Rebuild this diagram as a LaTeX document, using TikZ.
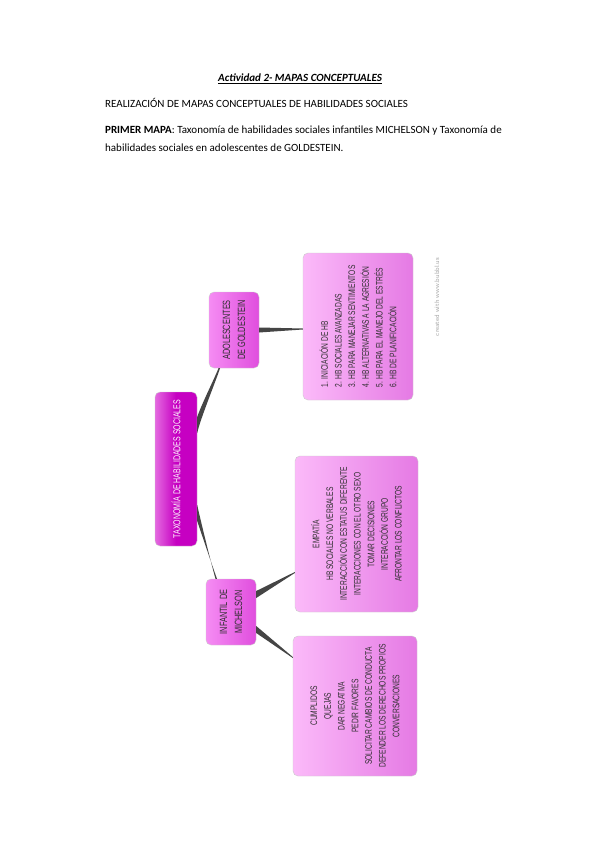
\documentclass[tikz,border=0pt]{standalone}
\usepackage{fontspec}
\setmainfont{Carlito}
\newfontfamily\mapfont[FakeStretch=0.7]{Liberation Sans}
\usetikzlibrary{calc}

\definecolor{rootpink}{HTML}{C600C2}
\definecolor{rootedge}{HTML}{E46AE0}
\definecolor{midpink}{HTML}{F58CF3}
\definecolor{middark}{HTML}{E04EDE}
\definecolor{boxlight}{HTML}{FBBAF9}
\definecolor{boxdark}{HTML}{E57AE4}
\definecolor{linkgray}{HTML}{454545}
\definecolor{inkgray}{HTML}{2E2E2E}

\tikzset{
  concept/.style={rotate=90, rounded corners=5pt, inner sep=2pt, align=center,
    font=\mapfont\fontsize{9.5}{13.7}\selectfont, text=inkgray,
    draw=gray!40, line width=0.4pt},
  rootbox/.style={concept, left color=rootedge, right color=rootpink, middle color=rootpink,
    text=white, font=\mapfont\fontsize{10}{12}\selectfont,
    minimum width=154pt, minimum height=42pt},
  midbox/.style={concept, left color=midpink, right color=middark,
    font=\mapfont\fontsize{10.5}{15}\selectfont},
  listbox/.style={concept, left color=boxlight, right color=boxdark},
  link/.style={fill=linkgray},
  header/.style={anchor=base west, inner sep=0pt, font=\fontsize{11}{13}\selectfont}
}

\begin{document}
\begin{tikzpicture}[x=1pt,y=-1pt]
\useasboundingbox (0,0) rectangle (599,848);
\fill[white] (0,0) rectangle (599,848);

% page text
\node[header, anchor=base] (title) at (300,82) {\textbf{\textit{\underline{Actividad 2- MAPAS CONCEPTUALES}}}};
\node[header] (subtitle) at (105,108) {REALIZACIÓN DE MAPAS CONCEPTUALES DE HABILIDADES SOCIALES};
\node[header] (first) at (105,133) {\textbf{PRIMER MAPA}: Taxonomía de habilidades sociales infantiles MICHELSON y Taxonomía de};
\node[header] (second) at (105,151) {habilidades sociales en adolescentes de GOLDESTEIN.};

% concept map
\node[rootbox] (root) at (176,469) {TAXONOMÍA DE HABILIDADES SOCIALES};
\node[midbox, minimum width=76pt, minimum height=50pt] (adol) at (234,330) {ADOLESCENTES\\DE GOLDESTEIN};
\node[midbox, minimum width=66pt, minimum height=50pt] (infantil) at (231,612) {INFANTIL DE\\MICHELSON};

\node[listbox, align=left, minimum width=147pt, minimum height=110pt] (goldbox) at (358,326.5)
  {1. INICIACIÓN DE HB\\2. HB SOCIALES AVANZADAS\\3. HB PARA MANEJAR SENTIMIENTOS\\
   4. HB ALTERNATIVAS A LA AGRESIÓN\\5. HB PARA EL MANEJO DEL ESTRÉS\\6. HB DE PLANIFICACIÓN};
\node[listbox, minimum width=156pt, minimum height=123pt] (michbox) at (356.5,534)
  {EMPATÍA\\HB SOCIALES NO VERBALES\\INTERACCIÓN CON ESTATUS DIFERENTE\\
   INTERACCIONES CON EL OTRO SEXO\\TOMAR DECISIONES\\INTERACCIÓN GRUPO\\AFRONTAR LOS CONFLICTOS};
\node[listbox, minimum width=140pt, minimum height=124pt] (asertbox) at (355,706)
  {CUMPLIDOS\\QUEJAS\\DAR NEGATIVA\\PEDIR FAVORES\\SOLICITAR CAMBIOS DE CONDUCTA\\
   DEFENDER LOS DERECHOS PROPIOS\\CONVERSACIONES};

% tapered links
\fill[link] ($(root.south)+(0,-52)$) .. controls +(4,-12) and +(-3,8) .. ($(adol.west)+(-15.5,0)$)
  -- ($(adol.west)+(-14,0)$) .. controls +(-3,10) and +(3,-14) .. ($(root.south)+(0,-36)$) -- cycle;
\fill[link] ($(root.south)+(0,36)$) .. controls +(3,14) and +(-3,-10) .. ($(infantil.east)+(-15.5,0)$)
  -- ($(infantil.east)+(-14,0)$) .. controls +(-3,-8) and +(4,12) .. ($(root.south)+(0,52)$) -- cycle;
\fill[link] ($(adol.south)+(0,-2.5)$) -- ($(goldbox.north)+(0,2)$)
  -- ($(goldbox.north)+(0,3)$) -- ($(adol.south)+(0,2.5)$) -- cycle;
\fill[link] ($(infantil.south)+(0,-21)$) -- ($(michbox.north)+(0,38)$)
  -- ($(michbox.north)+(0,39)$) -- ($(infantil.south)+(0,-14)$) -- cycle;
\fill[link] ($(infantil.south)+(0,14)$) -- ($(asertbox.north)+(0,-49)$)
  -- ($(asertbox.north)+(0,-48)$) -- ($(infantil.south)+(0,21)$) -- cycle;

\node[rotate=90, text=gray!70, font=\fontsize{6.5}{8}\selectfont\sffamily] (credit) at (437,297) {created with www.bubbl.us};
\end{tikzpicture}
\end{document}
